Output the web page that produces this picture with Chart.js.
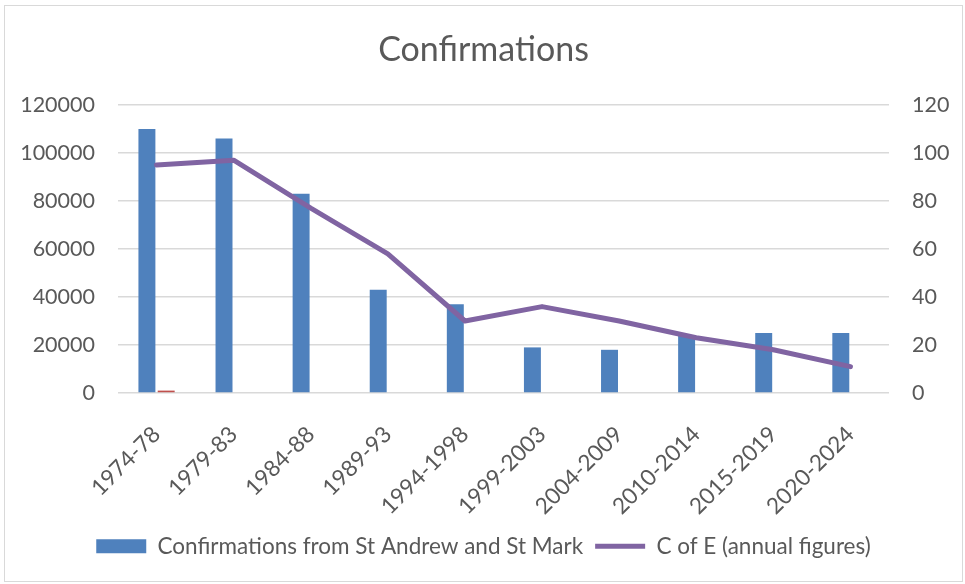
<!DOCTYPE html>
<html>
<head>
<meta charset="utf-8">
<script src="https://cdn.jsdelivr.net/npm/chart.js@4.4.1/dist/chart.umd.min.js"></script>
<style>
    html, body { margin: 0; padding: 0; background: #ffffff; }
    #frame {
        position: absolute;
        left: 4px;
        top: 5px;
        width: 959px;
        height: 577px;
        border: 1px solid #d9d9d9;
        box-sizing: border-box;
    }
</style>
</head>
<body>
<div id="frame"><canvas id="confChart"></canvas></div>
<script>
const categories = ['1974-78', '1979-83', '1984-88', '1989-93', '1994-1998',
    '1999-2003', '2004-2009', '2010-2014', '2015-2019', '2020-2024'];
const confirmations = [110000, 106000, 83000, 43000, 37000, 19000, 18000, 24000, 25000, 25000];
const otherSeries = [1000, null, null, null, null, null, null, null, null, null];
const cofeAnnual = [95, 97, 77, 58, 30, 36, 30, 23, 18, 11];
const leftTicks = [0, 20000, 40000, 60000, 80000, 100000, 120000];
const rightTicks = [0, 20, 40, 60, 80, 100, 120];

const FONT = 'Lato, "Open Sans", sans-serif';
const GREY = '#595959';

// fixes the legend box height so the plot area lands where the original has it
const legendHeight = {
    id: 'legendHeight',
    beforeInit(chart) {
        const fit = chart.legend.fit;
        chart.legend.fit = function () {
            fit.bind(chart.legend)();
            this.height = 58;
        };
    }
};

new Chart(document.getElementById('confChart').getContext('2d'), {
    data: {
        labels: categories,
        datasets: [
            {
                type: 'line',
                label: 'C of E (annual figures)',
                data: cofeAnnual,
                yAxisID: 'y1',
                borderColor: '#8064a2',
                backgroundColor: '#8064a2',
                borderWidth: 5,
                pointRadius: 0,
                pointStyle: 'line',
                borderCapStyle: 'round',
                borderJoinStyle: 'round',
                tension: 0,
                order: 0
            },
            {
                type: 'bar',
                label: 'Confirmations from St Andrew and St Mark',
                data: confirmations,
                yAxisID: 'y',
                backgroundColor: '#4f81bd',
                pointStyle: 'rect',
                categoryPercentage: 0.5,
                barPercentage: 0.88,
                order: 1
            },
            {
                type: 'bar',
                label: 'other',
                data: otherSeries,
                yAxisID: 'y',
                backgroundColor: '#c0504d',
                categoryPercentage: 0.5,
                barPercentage: 0.88,
                order: 1
            }
        ]
    },
    options: {
        responsive: true,
        maintainAspectRatio: false,
        animation: false,
        layout: { padding: { left: 0, right: 0, top: 0, bottom: 0 } },
        plugins: {
            title: {
                display: true,
                text: 'Confirmations',
                color: GREY,
                font: { family: FONT, size: 34, weight: 'normal' },
                padding: { top: 23.6, bottom: 34.6 }
            },
            legend: {
                position: 'bottom',
                reverse: true,
                labels: {
                    color: GREY,
                    font: { family: FONT, size: 22.5 },
                    usePointStyle: true,
                    pointStyleWidth: 50,
                    boxHeight: 14,
                    padding: 12,
                    filter: item => item.text !== 'other'
                }
            },
            tooltip: { enabled: false }
        },
        scales: {
            x: {
                grid: { display: false },
                border: { display: false },
                ticks: {
                    color: GREY,
                    font: { family: FONT, size: 22.5 },
                    minRotation: 45,
                    maxRotation: 45,
                    padding: 20,
                    labelOffset: 0
                },
                afterFit: axis => { axis.height = 130; }
            },
            y: {
                position: 'left',
                min: 0,
                max: 120000,
                afterBuildTicks: axis => { axis.ticks = leftTicks.map(v => ({ value: v })); },
                grid: { color: '#d9d9d9', lineWidth: 1.5, drawTicks: false },
                border: { display: false },
                ticks: {
                    color: GREY,
                    font: { family: FONT, size: 21.5 },
                    padding: 23,
                    callback: value => String(value)
                },
                afterFit: axis => { axis.width = 113; }
            },
            y1: {
                position: 'right',
                min: 0,
                max: 120,
                afterBuildTicks: axis => { axis.ticks = rightTicks.map(v => ({ value: v })); },
                grid: { display: false, drawTicks: false },
                border: { display: false },
                ticks: {
                    color: GREY,
                    font: { family: FONT, size: 21.5 },
                    padding: 23,
                    callback: value => String(value)
                },
                afterFit: axis => { axis.width = 73; }
            }
        }
    },
    plugins: [legendHeight]
});
</script>
</body>
</html>
